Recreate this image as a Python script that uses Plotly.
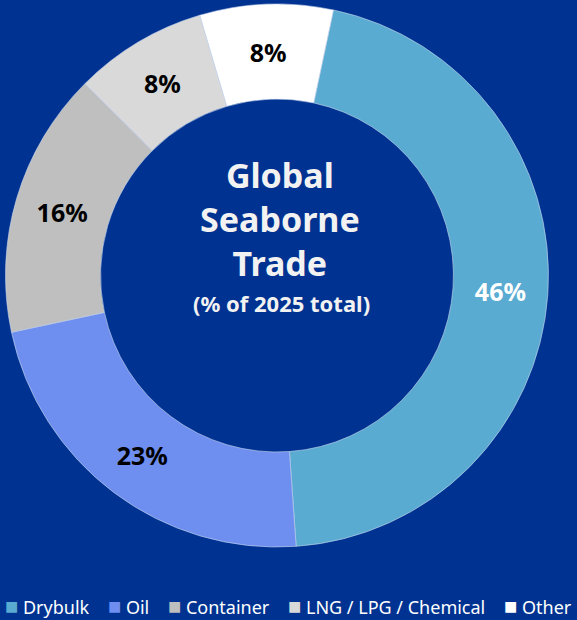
import plotly.graph_objects as go

# Share of global seaborne trade by segment, 2025
segments = ["Drybulk", "Oil", "Container", "LNG / LPG / Chemical", "Other"]
shares = [46, 23, 16, 8, 8]
colors = ["#5AABD1", "#6E8EF0", "#BFBFBF", "#D9D9D9", "#FFFFFF"]
label_colors = ["#FFFFFF", "#000000", "#000000", "#000000", "#000000"]

BG = "#003391"
FONT = "Noto Sans"
NBSP = "\u00a0"

fig = go.Figure(
    go.Pie(
        labels=segments,
        values=shares,
        sort=False,
        direction="clockwise",
        rotation=12,
        hole=0.65,
        marker=dict(colors=colors, line=dict(color="#C9D6EE", width=0.6)),
        texttemplate="%{value}%",
        textposition="inside",
        insidetextorientation="horizontal",
        textfont=dict(family=FONT, size=25, color=label_colors, weight="bold"),
        showlegend=False,
        domain=dict(x=[0.0095, 0.9506], y=[0.1177, 0.9935]),
    )
)

# Centre caption
fig.add_annotation(
    x=280 / 577, y=1 - 219 / 620, xref="paper", yref="paper",
    yanchor="middle",
    text="<b>Global<br>Seaborne<br>Trade</b>",
    showarrow=False, align="center",
    font=dict(family=FONT, size=34, color="#F2F2F2"),
)
fig.add_annotation(
    x=281 / 577, y=1 - 303 / 620, xref="paper", yref="paper",
    yanchor="middle",
    text="<b>(% of 2025 total)</b>",
    showarrow=False,
    font=dict(family=FONT, size=22, color="#F2F2F2"),
)

# Legend row built from the segment names and colours
items = [
    f"<span style='color:{c};font-size:22px'>■</span>{NBSP}{s}"
    for s, c in zip(segments, colors)
]
fig.add_annotation(
    x=0.5, y=1 - 605 / 620, xref="paper", yref="paper",
    yanchor="middle",
    text=(NBSP * 4).join(items),
    showarrow=False,
    font=dict(family=FONT, size=18, color="#FFFFFF"),
)

fig.update_layout(
    width=577, height=620,
    margin=dict(l=0, r=0, t=0, b=0),
    paper_bgcolor=BG, plot_bgcolor=BG,
)

fig.write_html("out.html")
